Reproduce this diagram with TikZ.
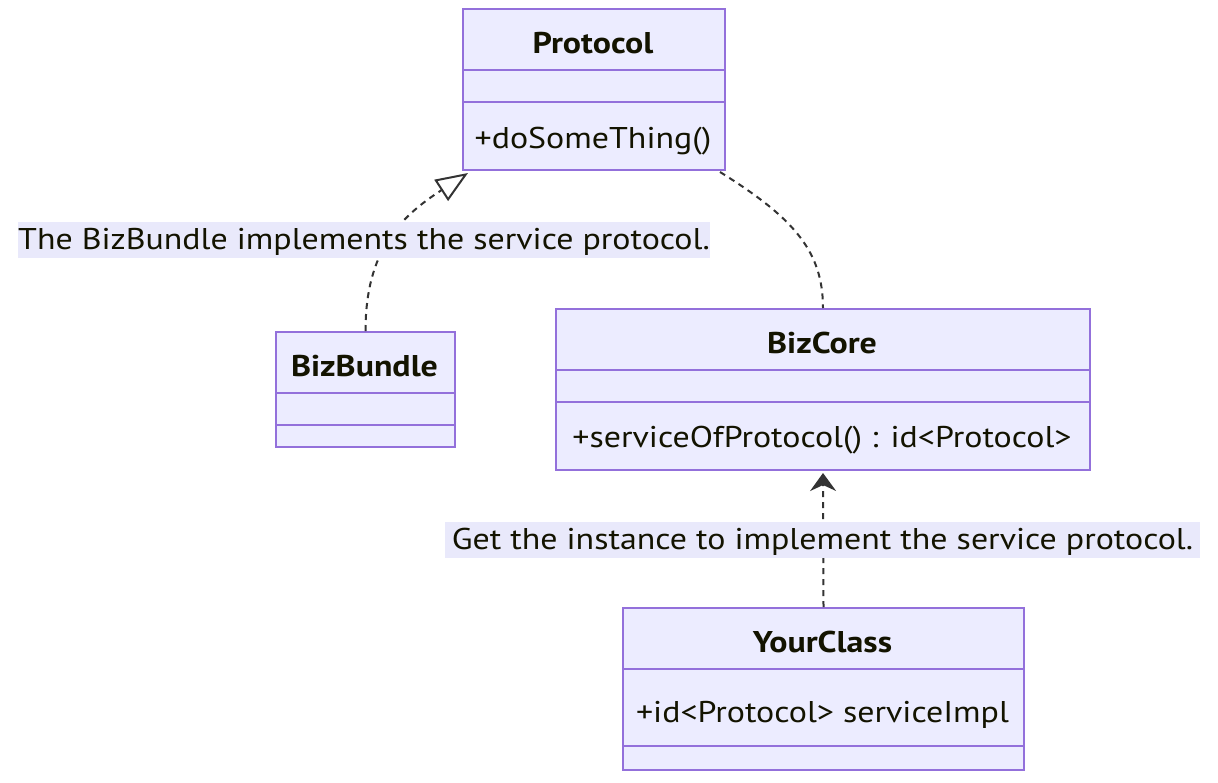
\documentclass[tikz,border=0pt]{standalone}
\usepackage{fontspec}
\setmainfont{PT Sans}[FakeStretch=1.13]
\usetikzlibrary{arrows.meta,calc}
\definecolor{boxfill}{HTML}{ECECFF}
\definecolor{boxline}{HTML}{9370DB}
\definecolor{txt}{HTML}{131300}
\definecolor{edge}{HTML}{333333}
\definecolor{lblbg}{HTML}{E9E9FB}
\begin{document}
\begin{tikzpicture}[x=1pt,y=-1pt,
  classbox/.style={draw=boxline, fill=boxfill, line width=2pt, anchor=north west, inner sep=0pt, rectangle},
  divider/.style={draw=boxline, line width=2pt},
  title/.style={font=\fontsize{30}{36}\selectfont\bfseries, text=txt, inner sep=0pt, anchor=base},
  member/.style={font=\fontsize{30}{36}\selectfont, text=txt, inner sep=0pt, anchor=base},
  edgelabel/.style={fill=lblbg, inner sep=0pt, text height=27pt, text depth=9pt, font=\fontsize{30}{36}\selectfont, text=txt},
  rel/.style={draw=edge, line width=2pt, dash pattern=on 6pt off 5pt}
]
\useasboundingbox (0,0) rectangle (1218,782);

% Protocol
\node[classbox, minimum width=262pt, minimum height=161pt] (protocol) at (462,8) {};
\draw[divider] (462,70) -- (724,70);
\draw[divider] (462,102) -- (724,102);
\node[title] (protocolT) at (593,53) {Protocol};
\node[member] (protocolM) at (593,148) {+doSomeThing()};

% BizBundle
\node[classbox, minimum width=179pt, minimum height=115pt] (bizbundle) at (275,331) {};
\draw[divider] (275,393) -- (454,393);
\draw[divider] (275,425) -- (454,425);
\node[title] (bizbundleT) at (364.5,376) {BizBundle};

% BizCore
\node[classbox, minimum width=534pt, minimum height=161pt] (bizcore) at (555,308) {};
\draw[divider] (555,370) -- (1089,370);
\draw[divider] (555,402) -- (1089,402);
\node[title] (bizcoreT) at (822,353) {BizCore};
\node[member] (bizcoreM) at (822,447) {+serviceOfProtocol() : id<Protocol>};

% YourClass
\node[classbox, minimum width=401pt, minimum height=162pt] (yourclass) at (622,607) {};
\draw[divider] (622,669) -- (1023,669);
\draw[divider] (622,746) -- (1023,746);
\node[title] (yourclassT) at (822.5,652) {YourClass};
\node[member] (yourclassM) at (822.5,722) {+id<Protocol> serviceImpl};

% connectors
\coordinate (pa) at ($(protocol.south west)+(6,2)$);
\coordinate (pb) at ($(protocol.south east)+(-6,1)$);
\draw[rel, -{Triangle[length=32pt, width=25pt, fill=white, line width=2pt]}]
  (bizbundle.north) .. controls +(0,-80) and +(-68,44) .. (pa);
\draw[rel] (pb) .. controls +(72,45) and +(0,-58) .. (bizcore.north);
\draw[rel, shorten >=2pt, -{Stealth[length=18pt, width=26pt, inset=6pt]}]
  (yourclass.north) -- (bizcore.south);

% labels
\node[edgelabel, minimum width=692pt] (lbl1) at (364,240) {The BizBundle implements the service protocol.};
\node[edgelabel, minimum width=755pt] (lbl2) at (822.5,540) {Get the instance to implement the service protocol.};
\end{tikzpicture}
\end{document}
